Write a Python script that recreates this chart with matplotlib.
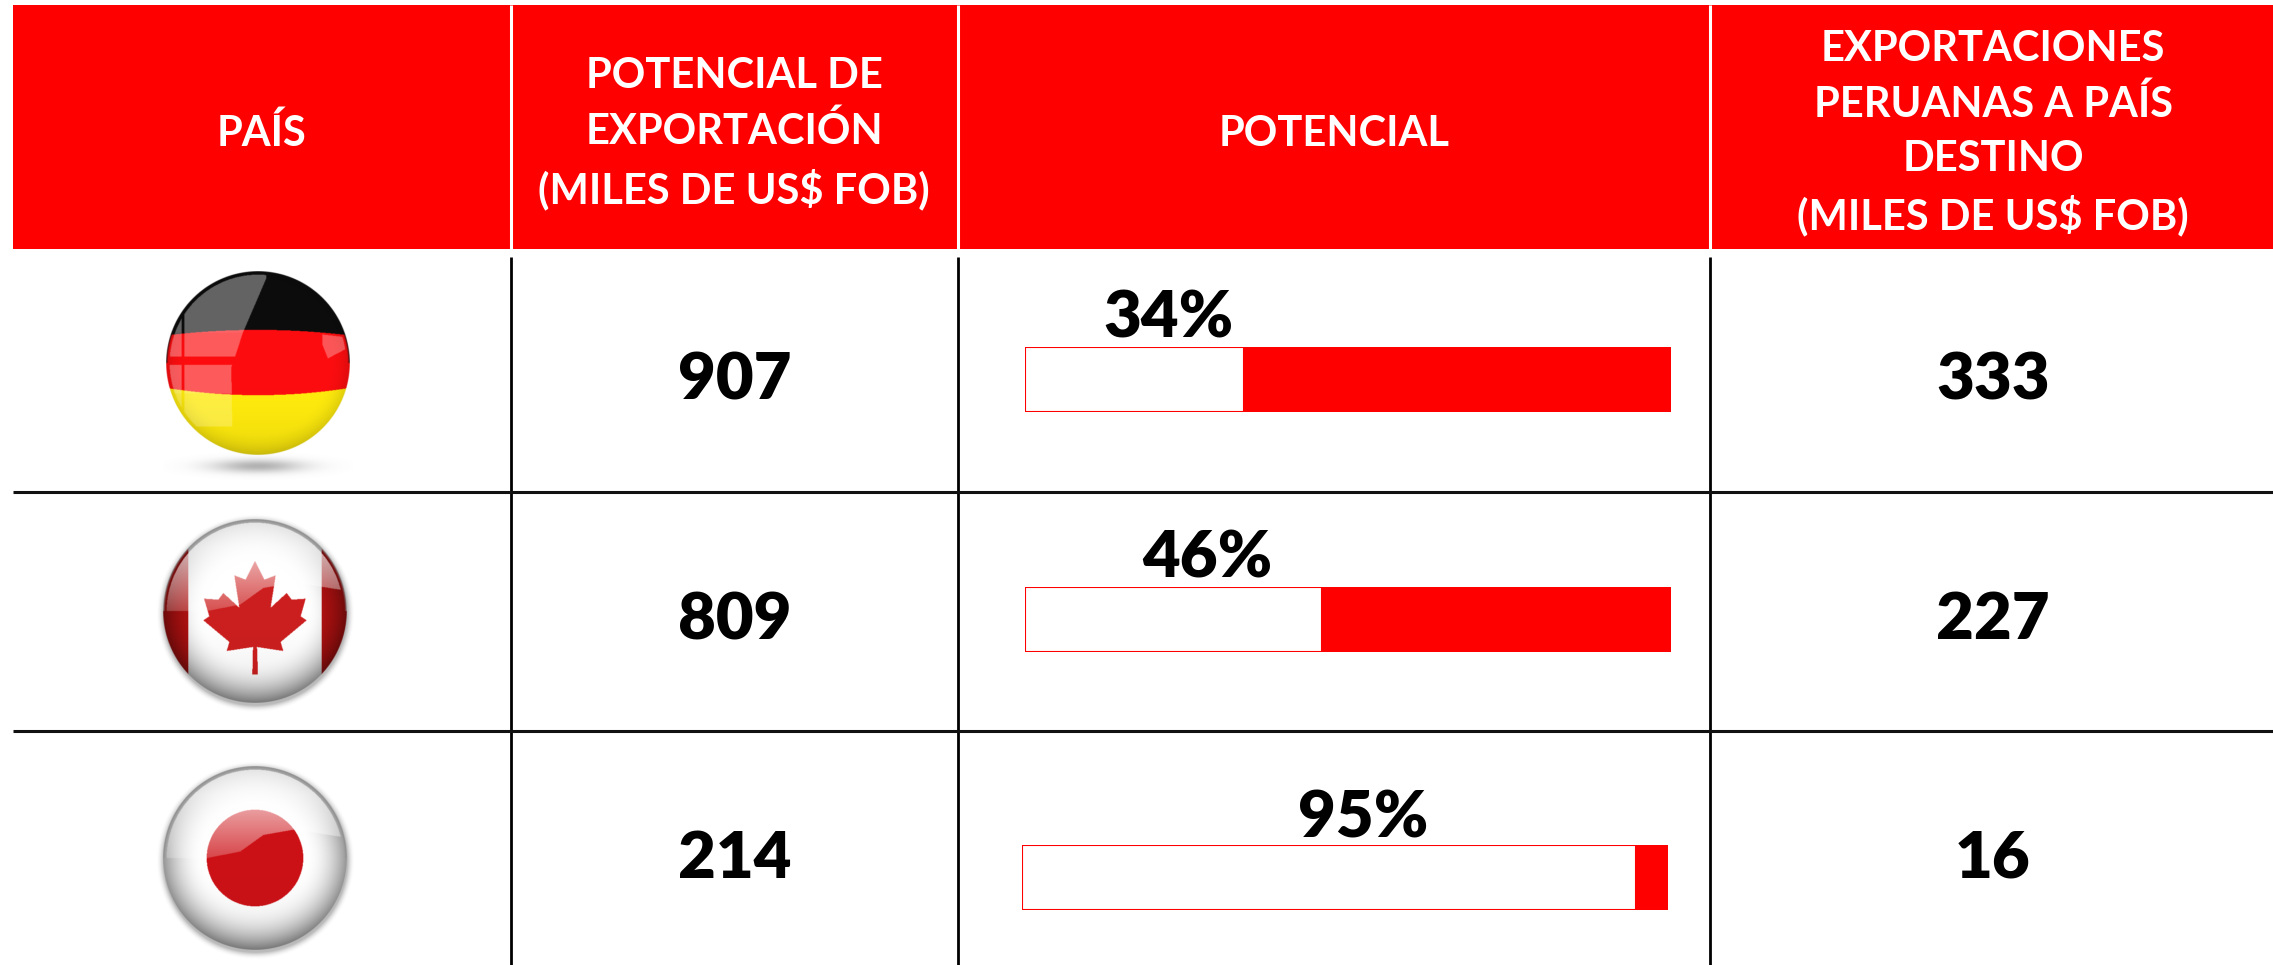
import numpy as np
import matplotlib
matplotlib.use("Agg")
import matplotlib.pyplot as plt
from matplotlib.path import Path
from matplotlib.patches import Rectangle

plt.rcParams['font.family'] = ['Lato', 'DejaVu Sans']

W, H = 2273, 965
RED = '#ff0000'

headers = ['PAÍS',
           'POTENCIAL DE\nEXPORTACIÓN\n(MILES DE US$ FOB)',
           'POTENCIAL',
           'EXPORTACIONES\nPERUANAS A PAÍS\nDESTINO\n(MILES DE US$ FOB)']
countries = ['germany', 'canada', 'japan']
export_potential = [907, 809, 214]
potential_pct = [34, 46, 95]
peru_exports = [333, 227, 16]

# layout, in pixels of the final image
col_edges = [13, 511, 958, 1710, 2273]
row_lines = [492, 730.5]
row_base = [399, 639, 878]
flag_centers = [(258, 363), (255, 611), (255, 858)]
flag_r = 92
bar_boxes = [(1024.5, 347), (1024.5, 586.5), (1021.5, 844.5)]
bar_w, bar_h = 646.5, 65
pct_label_x = [1169, 1207, 1363]
pct_label_y = [338, 578, 837]
header_x = [262, 734, 1334, 1993]

# maple leaf outline, relative to the flag centre (in fractions of the radius)
leaf_xy = np.array([(0, -150), (28, -94), (62, -107), (47, -10), (95, -54), (110, -34),
                    (152, -37), (137, 16), (155, 28), (77, 93), (85, 120), (6, 108),
                    (9, 191), (-8, 191), (-6, 108), (-85, 120), (-77, 93), (-155, 28),
                    (-137, 16), (-153, -37), (-110, -34), (-95, -54), (-47, -10),
                    (-62, -107), (-28, -94), (0, -150)]) / 276.0


def flag_base(name, u, v):
    img = np.ones(u.shape + (3,))
    if name == 'germany':
        top = v < -0.36 + 0.06 * u ** 2
        low = v > 0.35 - 0.08 * u ** 2
        img[:] = (0.99, 0.05, 0.06)
        img[top] = (0.05, 0.05, 0.05)
        img[low] = (1.0, 0.92, 0.05)
    elif name == 'canada':
        leaf = Path(leaf_xy).contains_points(np.c_[u.ravel(), v.ravel()]).reshape(u.shape)
        img[np.abs(u) > 0.725] = (0.72, 0.07, 0.07)
        img[leaf] = (0.80, 0.12, 0.12)
    else:
        img[u ** 2 + v ** 2 < 0.525 ** 2] = (0.80, 0.07, 0.09)
    return img


def germany_gloss(u, v):
    edge = np.interp(v, [-0.92, -0.34, 0.05, 0.69], [0.09, -0.16, -0.29, -0.28])
    left = (u < edge) & (v < 0.69)
    gap = (v > -0.07) & (v < 0.02)
    ring = (u > -0.83) & (u < -0.80)
    corner = Path([(0.70, -0.31), (0.96, -0.28), (0.97, -0.16), (0.76, -0.05), (0.70, -0.2)])
    right = corner.contains_points(np.c_[u.ravel(), v.ravel()]).reshape(u.shape)
    strength = np.where(v < -0.33, 0.36, np.where(v < 0.33, 0.32, 0.22))
    return (left & ~gap & ~ring) * strength + right * 0.30


def ball_gloss(u, v):
    wave = np.interp(u, [-1, -0.52, -0.16, 0.09, 0.43, 1], [0.0, 0.0, -0.07, -0.25, -0.31, -0.22])
    return (v < wave) * np.clip(0.22 + 0.7 * -v, 0, 0.7)


def flag_image(name, size=400):
    t = (np.arange(size) + 0.5) / size * 2 - 1
    u, v = np.meshgrid(t, t)
    r = np.hypot(u, v)
    img = flag_base(name, u, v)

    # darker towards the rim, the white flags show it as a grey ring
    if name == 'germany':
        shade = 1 - 0.12 * np.clip((r - 0.75) / 0.25, 0, 1) ** 2
        shade -= 0.10 * np.clip(v, 0, 1) ** 3
        mix = germany_gloss(u, v)
    else:
        shade = 1 - 0.42 * np.clip((r - 0.55) / 0.45, 0, 1) ** 2
        shade -= 0.12 * np.clip(v, 0, 1) ** 2
        mix = ball_gloss(u, v)
    img = img * shade[..., None]
    mix = (mix * (r < 0.96))[..., None]
    img = img * (1 - mix) + mix

    # thin rim
    rim_col = np.array([0.05, 0.05, 0.05]) if name == 'germany' else np.array([0.55, 0.55, 0.55])
    rim = (np.clip((r - 0.975) / 0.025, 0, 1) * (v < 0.0))[..., None]
    img = img * (1 - rim) + rim_col * rim

    alpha = np.clip((1.0 - r) * size / 2, 0, 1)
    return np.dstack([img, alpha])


def soft_blob(rx, ry, level, size=200):
    # grey smudge with gaussian falloff, used for the drop shadows
    t = (np.arange(size) + 0.5) / size * 2 - 1
    u, v = np.meshgrid(t, t)
    alpha = level * np.exp(-(u ** 2 + v ** 2) * 4.5)
    rgba = np.zeros((size, size, 4))
    rgba[..., :3] = 0.45
    rgba[..., 3] = alpha
    return rgba, (rx, ry)


def halo(size=300, pad=1.12):
    t = np.linspace(-pad, pad, size)
    u, v = np.meshgrid(t, t)
    r = np.hypot(u, v - 0.03)
    rgba = np.zeros((size, size, 4))
    rgba[..., :3] = 0.4
    rgba[..., 3] = 0.45 * np.clip((pad - 0.04 - r) / (pad - 1.04), 0, 1) ** 2
    return rgba, pad


fig = plt.figure(figsize=(W / 100, H / 100), dpi=100, facecolor='white')
ax = fig.add_axes([0, 0, 1, 1])

# header band and its white separators
ax.add_patch(Rectangle((col_edges[0], 5), W - col_edges[0], 244, fc=RED, ec='none'))
for x in col_edges[1:-1]:
    ax.plot([x, x], [5, 249], color='white', lw=2.2, solid_capstyle='butt')
    ax.plot([x, x], [257, H], color='black', lw=2.0, solid_capstyle='butt')
for y in row_lines:
    ax.plot([col_edges[0], W], [y, y], color='#111111', lw=2.2, solid_capstyle='butt')

for x, label in zip(header_x, headers):
    ax.text(x, 133.5, label, color='white', fontsize=30, fontweight='bold',
            ha='center', va='center', linespacing=1.5)

for i, name in enumerate(countries):
    cx, cy = flag_centers[i]
    if name == 'germany':
        blob, (rx, ry) = soft_blob(95, 14, 0.55)
        ax.imshow(blob, extent=(cx - rx, cx + rx, cy + 103 + ry, cy + 103 - ry),
                  zorder=2, aspect='auto')
    else:
        blob, pad = halo()
        ext = flag_r * pad
        ax.imshow(blob, extent=(cx - ext, cx + ext, cy + ext, cy - ext), zorder=2, aspect='auto')
    ax.imshow(flag_image(name), extent=(cx - flag_r, cx + flag_r, cy + flag_r, cy - flag_r),
              interpolation='bilinear', zorder=3, aspect='auto')
    ax.text(735, row_base[i], str(export_potential[i]), fontsize=47, fontweight='heavy',
            ha='center', va='baseline', color='black')
    ax.text(1993, row_base[i], str(peru_exports[i]), fontsize=47, fontweight='heavy',
            ha='center', va='baseline', color='black')
    ax.text(pct_label_x[i], pct_label_y[i], f'{potential_pct[i]}%', fontsize=47,
            fontweight='heavy', ha='center', va='baseline', color='black')
ax.set_xlim(0, W)
ax.set_ylim(H, 0)
ax.axis('off')

# the bars: white part is the percentage, red part the rest up to 100
for i, pct in enumerate(potential_pct):
    x0, y0 = bar_boxes[i]
    bax = fig.add_axes([x0 / W, 1 - (y0 + bar_h) / H, bar_w / W, bar_h / H])
    bax.barh([0], [pct], height=1, color='white', edgecolor=RED, linewidth=1.5)
    bax.barh([0], [100 - pct], left=[pct], height=1, color=RED, edgecolor=RED, linewidth=0)
    bax.set_xlim(0, 100)
    bax.set_ylim(-0.5, 0.5)
    bax.axis('off')

fig.savefig('out.png', dpi=100, facecolor='white')
